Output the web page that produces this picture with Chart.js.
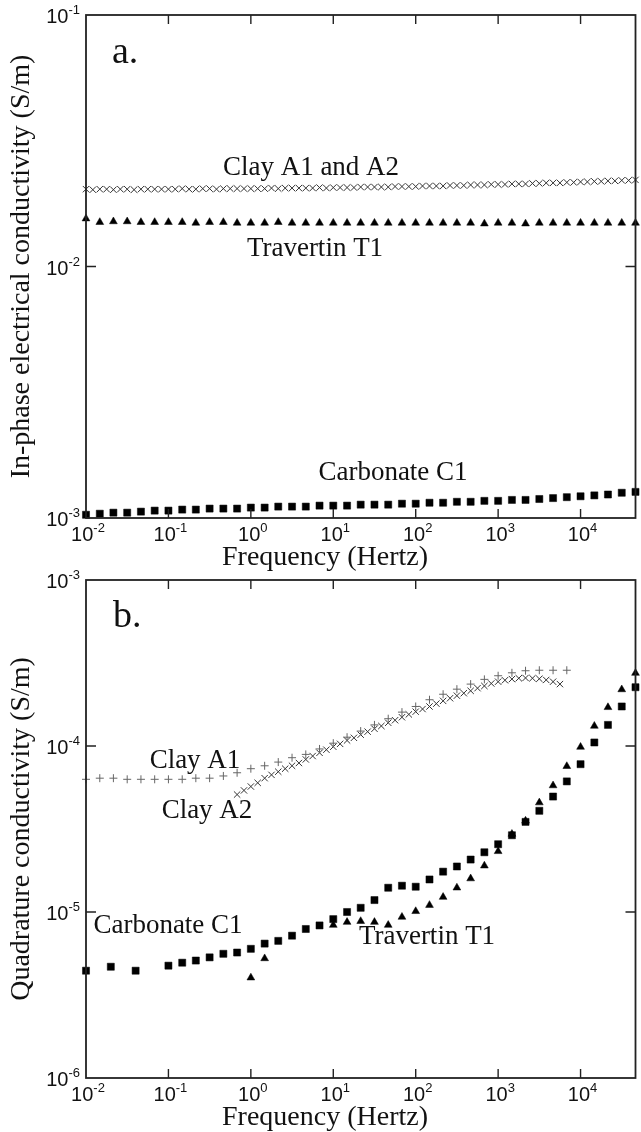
<!DOCTYPE html>
<html>
<head>
<meta charset="utf-8">
<script src="https://cdn.jsdelivr.net/npm/chart.js@4.4.1/dist/chart.umd.min.js"></script>
<style>
html,body{margin:0;padding:0;background:#fff;}
#wrap{position:relative;width:641px;height:1132px;overflow:hidden;}
canvas{position:absolute;left:0;}
#cA{top:0;}
#cB{top:560px;}
</style>
</head>
<body>
<div id="wrap">
  <canvas id="cA" width="641" height="580"></canvas>
  <canvas id="cB" width="641" height="572"></canvas>
</div>
<script>
// measurement frequencies (Hz)
const twelfthFreq=[0.01,0.0121,0.0147,0.0178,0.0215,0.0261,0.0316,0.0383,0.0464,0.0562,0.0681,0.0825,
  0.1,0.121,0.147,0.178,0.215,0.261,0.316,0.383,0.464,0.562,0.681,0.825,
  1,1.21,1.47,1.78,2.15,2.61,3.16,3.83,4.64,5.62,6.81,8.25,
  10,12.1,14.7,17.8,21.5,26.1,31.6,38.3,46.4,56.2,68.1,82.5,
  100,121,147,178,215,261,316,383,464,562,681,825,
  1000,1210,1470,1780,2150,2610,3160,3830,4640,5620,6810,8250,
  10000,12100,14700,17800,21500,26100,31600,38300,46400];
const sixthFreq=[0.01,0.0147,0.0215,0.0316,0.0464,0.0681,
  0.1,0.147,0.215,0.316,0.464,0.681,
  1,1.47,2.15,3.16,4.64,6.81,
  10,14.7,21.5,31.6,46.4,68.1,
  100,147,215,316,464,681,
  1000,1470,2150,3160,4640,6810,
  10000,14700,21500,31600,46400];

// panel a: in-phase conductivity (S/m)
const clayInPhase=[0.0203,0.0202,0.0203,0.0203,0.0202,0.0203,0.0203,0.0202,0.0203,0.0203,0.0203,0.0203,
  0.0203,0.0203,0.0204,0.0203,0.0203,0.0204,0.0204,0.0203,0.0204,0.0204,0.0204,0.0204,
  0.0204,0.0204,0.0204,0.0205,0.0204,0.0205,0.0205,0.0205,0.0205,0.0205,0.0206,0.0205,
  0.0206,0.0206,0.0206,0.0206,0.0207,0.0207,0.0207,0.0207,0.0207,0.0208,0.0208,0.0208,
  0.0208,0.0209,0.0209,0.0209,0.0209,0.0210,0.0210,0.0210,0.0211,0.0211,0.0211,0.0212,
  0.0212,0.0212,0.0213,0.0213,0.0213,0.0214,0.0214,0.0215,0.0215,0.0215,0.0216,0.0216,
  0.0217,0.0217,0.0218,0.0218,0.0219,0.0219,0.0220,0.0220,0.0221];
const travInPhase=[0.0155,0.0150,0.0151,0.0151,0.0150,0.0150,
  0.0150,0.0150,0.0149,0.0150,0.0150,0.0149,
  0.0149,0.0149,0.0150,0.0149,0.0149,0.0149,
  0.0149,0.0149,0.0149,0.0149,0.0149,0.0149,
  0.0149,0.0149,0.0149,0.0149,0.0149,0.0148,
  0.0149,0.0149,0.0148,0.0149,0.0149,0.0149,
  0.0149,0.0149,0.0149,0.0149,0.0149];
const carbInPhase=[0.00103,0.00104,0.00105,0.00105,0.00106,0.00107,
  0.00107,0.00108,0.00108,0.00109,0.00109,0.00109,
  0.00110,0.00110,0.00111,0.00111,0.00111,0.00112,
  0.00112,0.00112,0.00113,0.00113,0.00113,0.00114,
  0.00114,0.00115,0.00115,0.00116,0.00116,0.00117,
  0.00117,0.00118,0.00118,0.00119,0.00120,0.00121,
  0.00122,0.00123,0.00124,0.00126,0.00127];

// panel b: quadrature conductivity (S/m)
const clayA1Freq=sixthFreq.slice(0,36);
const clayA1Quad=[6.3e-5,6.4e-5,6.4e-5,6.3e-5,6.3e-5,6.3e-5,
  6.3e-5,6.3e-5,6.4e-5,6.4e-5,6.6e-5,6.9e-5,
  7.3e-5,7.6e-5,8.0e-5,8.5e-5,8.9e-5,9.6e-5,
  1.04e-4,1.13e-4,1.23e-4,1.34e-4,1.46e-4,1.60e-4,
  1.73e-4,1.90e-4,2.05e-4,2.20e-4,2.36e-4,2.52e-4,
  2.65e-4,2.76e-4,2.84e-4,2.86e-4,2.86e-4,2.86e-4];
const clayA2Freq=twelfthFreq.slice(22,70);
const clayA2Quad=[5.1e-5,5.4e-5,5.7e-5,6.0e-5,6.4e-5,6.7e-5,7.0e-5,7.3e-5,7.6e-5,7.9e-5,8.3e-5,8.7e-5,9.1e-5,9.5e-5,
  9.9e-5,1.03e-4,1.08e-4,1.12e-4,1.17e-4,1.22e-4,1.27e-4,1.32e-4,1.38e-4,1.43e-4,1.49e-4,1.55e-4,
  1.61e-4,1.67e-4,1.73e-4,1.80e-4,1.87e-4,1.94e-4,2.01e-4,2.08e-4,2.15e-4,2.23e-4,2.30e-4,2.38e-4,
  2.44e-4,2.49e-4,2.53e-4,2.56e-4,2.57e-4,2.56e-4,2.54e-4,2.50e-4,2.44e-4,2.36e-4];
const carbQuadFreq=[0.01,0.02,0.04,0.1,0.147,0.215,0.316,0.464,0.681,
  1,1.47,2.15,3.16,4.64,6.81,10,14.7,21.5,31.6,46.4,68.1,
  100,147,215,316,464,681,1000,1470,2150,3160,4640,6810,
  10000,14700,21500,31600,46400];
const carbQuad=[4.43e-6,4.68e-6,4.43e-6,4.75e-6,4.95e-6,5.1e-6,5.33e-6,5.6e-6,5.7e-6,
  6.0e-6,6.45e-6,6.7e-6,7.2e-6,7.9e-6,8.3e-6,9.06e-6,1.0e-5,1.06e-5,1.18e-5,1.40e-5,1.44e-5,
  1.42e-5,1.57e-5,1.75e-5,1.88e-5,2.07e-5,2.29e-5,2.56e-5,2.90e-5,3.49e-5,4.07e-5,4.96e-5,6.12e-5,
  7.77e-5,1.05e-4,1.34e-4,1.73e-4,2.26e-4];
const travQuadFreq=[1,1.47,10,14.7,21.5,31.6,46.4,68.1,
  100,147,215,316,464,681,1000,1470,2150,3160,4640,6810,
  10000,14700,21500,31600,46400];
const travQuad=[4.02e-6,5.25e-6,8.34e-6,8.69e-6,8.8e-6,8.69e-6,8.34e-6,9.33e-6,
  1.01e-5,1.10e-5,1.23e-5,1.40e-5,1.59e-5,1.90e-5,2.32e-5,2.95e-5,3.54e-5,4.56e-5,5.78e-5,7.55e-5,
  9.86e-5,1.32e-4,1.71e-4,2.19e-4,2.75e-4];

// tick decades
const xDecades=[-2,-1,0,1,2,3,4];
const yDecadesA=[-3,-2,-1];
const yDecadesB=[-6,-5,-4,-3];

const serif='"Liberation Serif","Times New Roman",serif';
const sans='"Liberation Sans",Arial,sans-serif';
const pts=(xs,ys)=>xs.map((v,i)=>({x:v,y:ys[i]}));

function powLabel(ctx,exp,x,y,align){
  ctx.font='20px '+sans;
  const wb=ctx.measureText('10').width;
  ctx.font='13px '+sans;
  const ws=ctx.measureText(String(exp)).width;
  const left=align==='right'?x-wb-ws:x-(wb+ws)/2+2;
  ctx.textAlign='left';ctx.textBaseline='alphabetic';
  ctx.font='20px '+sans;ctx.fillText('10',left,y);
  ctx.font='13px '+sans;ctx.fillText(String(exp),left+wb,y-9);
}

const framePlugin={
  id:'frame',
  afterDraw(chart,args,o){
    const {ctx,chartArea:a,scales:{x,y}}=chart;
    ctx.save();
    ctx.fillStyle='#111';
    ctx.strokeStyle='#222';ctx.lineWidth=1.8;
    ctx.strokeRect(a.left,a.top,a.right-a.left,a.bottom-a.top);
    ctx.lineWidth=1.4;
    o.xDec.forEach(e=>{
      const px=x.getPixelForValue(Math.pow(10,e));
      if(px>a.left+2&&px<a.right-2){
        ctx.beginPath();
        ctx.moveTo(px,a.bottom);ctx.lineTo(px,a.bottom-9);
        ctx.moveTo(px,a.top);ctx.lineTo(px,a.top+9);
        ctx.stroke();
      }
      powLabel(ctx,e,px,a.bottom+23,'center');
    });
    o.yDec.forEach(e=>{
      const py=y.getPixelForValue(Math.pow(10,e));
      if(py>a.top+2&&py<a.bottom-2){
        ctx.beginPath();
        ctx.moveTo(a.left,py);ctx.lineTo(a.left+10,py);
        ctx.moveTo(a.right,py);ctx.lineTo(a.right-10,py);
        ctx.stroke();
      }
      powLabel(ctx,e,a.left-6,py+8,'right');
    });
    // axis titles
    ctx.font='28px '+serif;
    ctx.textAlign='center';ctx.textBaseline='alphabetic';
    ctx.fillText('Frequency (Hertz)',o.xTitleX,a.bottom+47);
    ctx.save();
    ctx.translate(22,(a.top+a.bottom)/2);
    ctx.rotate(-Math.PI/2);
    ctx.textBaseline='middle';
    ctx.fillText(o.yTitle,0,0);
    ctx.restore();
    // panel letter
    ctx.font='38px '+serif;ctx.textAlign='left';
    ctx.fillText(o.letter[0],o.letter[1],o.letter[2]);
    // annotations
    ctx.font='27px '+serif;ctx.textAlign='center';
    o.notes.forEach(n=>ctx.fillText(n[0],n[1],n[2]));
    ctx.restore();
  }
};

function ds(label,data,style,r,color,fill,bw){
  return {label,data,showLine:false,pointStyle:style,pointRadius:r,pointHoverRadius:r,
    borderColor:color,backgroundColor:fill,pointBorderWidth:bw,borderWidth:bw,clip:false};
}

function make(id,datasets,ymin,ymax,pad,frame){
  return new Chart(document.getElementById(id),{
    type:'scatter',
    data:{datasets},
    options:{
      responsive:false,animation:false,devicePixelRatio:1,
      layout:{padding:pad},
      plugins:{legend:{display:false},tooltip:{enabled:false},frame},
      scales:{
        x:{type:'logarithmic',min:0.01,max:46400,display:false},
        y:{type:'logarithmic',min:ymin,max:ymax,display:false}
      }
    },
    plugins:[framePlugin]
  });
}

make('cA',[
  ds('Clay A1 and A2',pts(twelfthFreq,clayInPhase),'crossRot',4.5,'#333','rgba(0,0,0,0)',1),
  ds('Travertin T1',pts(sixthFreq,travInPhase),'triangle',4.5,'#000','#000',0.5),
  ds('Carbonate C1',pts(sixthFreq,carbInPhase),'rect',5,'#000','#000',0.5)
],1e-3,1e-1,{left:86,right:2,top:15,bottom:62},{
  xDec:xDecades,yDec:yDecadesA,xTitleX:325,
  yTitle:'In-phase electrical conductivity (S/m)',
  letter:['a.',112,63],
  notes:[['Clay A1 and A2',311,175],['Travertin T1',315,256],['Carbonate C1',393,480]]
});

make('cB',[
  ds('Clay A1',pts(clayA1Freq,clayA1Quad),'cross',4,'#666','rgba(0,0,0,0)',1),
  ds('Clay A2',pts(clayA2Freq,clayA2Quad),'crossRot',4.5,'#333','rgba(0,0,0,0)',1),
  ds('Carbonate C1',pts(carbQuadFreq,carbQuad),'rect',5,'#000','#000',0.5),
  ds('Travertin T1',pts(travQuadFreq,travQuad),'triangle',4.5,'#000','#000',0.5)
],1e-6,1e-3,{left:86,right:2,top:20,bottom:54},{
  xDec:xDecades,yDec:yDecadesB,xTitleX:325,
  yTitle:'Quadrature conductivity (S/m)',
  letter:['b.',113,67],
  notes:[['Clay A1',195,208],['Clay A2',207,258],['Carbonate C1',168,373],['Travertin T1',427,384]]
});
</script>
</body>
</html>
